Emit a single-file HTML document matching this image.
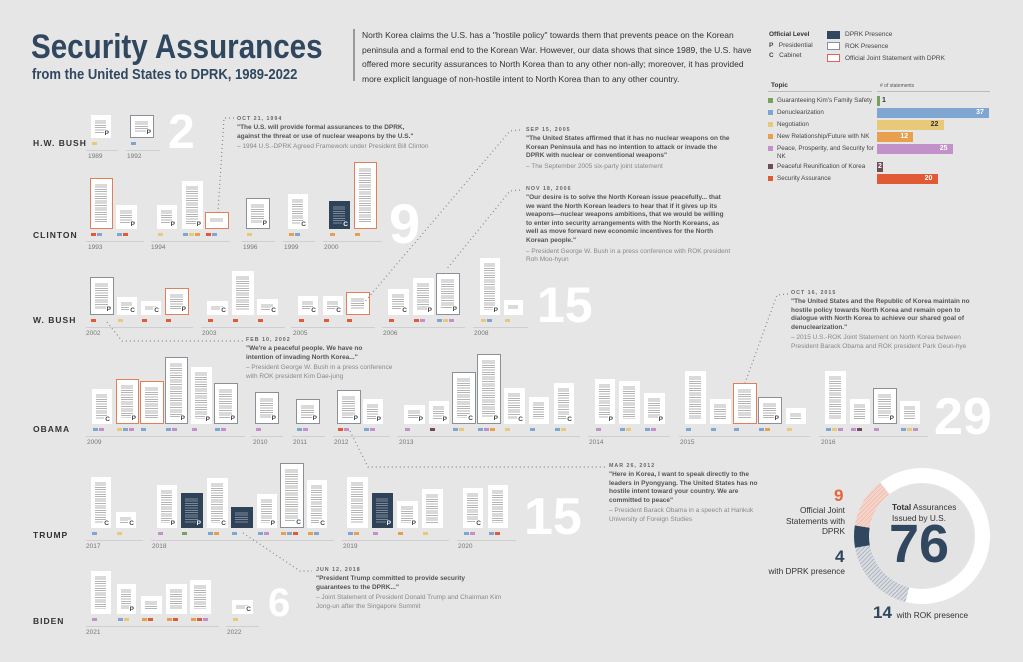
<!DOCTYPE html>
<html><head><meta charset="utf-8">
<style>
body{margin:0;background:#e6e6e6;}
#c{position:relative;width:1023px;height:662px;overflow:hidden;background:#e6e6e6;font-family:"Liberation Sans",sans-serif;color:#444;}
.a{position:absolute;white-space:nowrap;}
.doc{position:absolute;background:#fff;box-sizing:border-box;}
.doc i{position:absolute;left:4px;right:5px;top:4px;bottom:5px;background:repeating-linear-gradient(#fff 0,#fff 1.3px,#b5b5b5 1.3px,#b5b5b5 2.3px);}
.doc.g{border:1.5px solid #8a9098;}
.doc.o{border:1.5px solid #e0805a;}
.doc.d{background:#2f4358;}
.doc.d i{background:repeating-linear-gradient(#2f4358 0,#2f4358 1.3px,#7a8899 1.3px,#7a8899 2.3px);}
.doc b{position:absolute;right:1px;bottom:0;font-size:6.5px;font-weight:bold;color:#444;background:#fff;padding:0 1px;line-height:8px;}
.doc.d b{background:#2f4358;color:#fff;}
.tag{position:absolute;width:5px;height:3px;}
.ln{position:absolute;height:1px;background:#cfcfcf;}
.yr{position:absolute;font-size:6.5px;color:#777;}
.pres{position:absolute;left:33px;font-size:8.5px;font-weight:bold;letter-spacing:1px;color:#333;}
.big{position:absolute;color:#fff;font-weight:bold;font-size:62px;line-height:1;}
.q{position:absolute;font-size:6.5px;line-height:8.6px;color:#555;}
.q .dt{font-size:5.3px;letter-spacing:1px;font-weight:bold;color:#666;line-height:9px;}
.q .t{font-weight:bold;color:#555;}
.q .s{color:#888;margin-top:2px;}
</style></head><body><div id="c">
<div class="a" style="left:31px;top:28px;font-size:34px;font-weight:bold;color:#30475f;transform:scaleX(0.87);transform-origin:0 0;">Security Assurances</div>
<div class="a" style="left:32px;top:66px;font-size:15px;font-weight:bold;color:#30475f;transform:scaleX(0.87);transform-origin:0 0;">from the United States to DPRK, 1989-2022</div>
<div class="a" style="left:353px;top:29px;width:2px;height:52px;background:#999;"></div>
<div class="a" style="left:362px;top:28px;font-size:8.5px;line-height:14.6px;color:#333;">North Korea claims the U.S. has a "hostile policy" towards them that prevents peace on the Korean<br>peninsula and a formal end to the Korean War. However, our data shows that since 1989, the U.S. have<br>offered more security assurances to North Korea than to any other non-ally; moreover, it has provided<br>more explicit language of non-hostile intent to North Korea than to any other country.</div>

<!-- legend -->
<div class="a" style="left:769px;top:31px;font-size:6.5px;font-weight:bold;color:#333;">Official Level</div>
<div class="a" style="left:769px;top:42px;font-size:6.5px;color:#444;"><b>P</b>&nbsp;&nbsp;&nbsp;Presidential</div>
<div class="a" style="left:769px;top:52px;font-size:6.5px;color:#444;"><b>C</b>&nbsp;&nbsp;&nbsp;Cabinet</div>
<div class="a" style="left:827px;top:31px;width:13px;height:8px;background:#30475f;"></div>
<div class="a" style="left:827px;top:42px;width:13px;height:8px;background:#fff;border:1px solid #8a9098;box-sizing:border-box;"></div>
<div class="a" style="left:827px;top:54px;width:13px;height:8px;background:#fff;border:1px solid #e06060;box-sizing:border-box;"></div>
<div class="a" style="left:845px;top:31px;font-size:6.5px;">DPRK Presence</div>
<div class="a" style="left:845px;top:43px;font-size:6.5px;">ROK Presence</div>
<div class="a" style="left:845px;top:55px;font-size:6.5px;">Official Joint Statement with DPRK</div>
<div class="a" style="left:771px;top:82px;font-size:6.5px;font-weight:bold;color:#333;">Topic</div>
<div class="a" style="left:880px;top:83px;font-size:5px;color:#555;"># of statements</div>
<div class="a" style="left:768px;top:91px;width:104px;height:1px;background:#bbb;"></div>
<div class="a" style="left:877px;top:91px;width:113px;height:1px;background:#bbb;"></div>
<div id="topics"></div>

<div id="tl"></div>
<div class="pres" style="top:138px;">H.W. BUSH</div>
<div class="pres" style="top:230px;">CLINTON</div>
<div class="pres" style="top:315px;">W. BUSH</div>
<div class="pres" style="top:424px;">OBAMA</div>
<div class="pres" style="top:530px;">TRUMP</div>
<div class="pres" style="top:616px;">BIDEN</div>
<div class="big" style="left:168px;top:109px;font-size:48px;">2</div>
<div class="big" style="left:389px;top:196px;font-size:56px;">9</div>
<div class="big" style="left:537px;top:280px;font-size:50px;">15</div>
<div class="big" style="left:934px;top:391px;font-size:52px;">29</div>
<div class="big" style="left:524px;top:491px;font-size:52px;">15</div>
<div class="big" style="left:268px;top:583px;font-size:40px;">6</div>

<svg class="a" style="left:0;top:0;" width="1023" height="662">
<g fill="none" stroke="#888" stroke-width="1.2" stroke-dasharray="1 3">
<path d="M234 118 L224 118 L218 212"/>
<path d="M520 130 L510 131 L362 305"/>
<path d="M520 190 L510 191 L446 270"/>
<path d="M107 322 L122 341 L243 341"/>
<path d="M788 294 L777 295 L745 383"/>
<path d="M350 431 L368 467 L605 467"/>
<path d="M243 533 L300 571 L312 571"/>
</g>
<g transform="translate(922 536)">
<defs>
<pattern id="hp" width="3" height="3" patternUnits="userSpaceOnUse" patternTransform="rotate(45)"><rect width="3" height="3" fill="#f4d5cc"/><line x1="0" y1="0" x2="0" y2="3" stroke="#f0a996" stroke-width="1"/></pattern>
<pattern id="hg" width="3" height="3" patternUnits="userSpaceOnUse" patternTransform="rotate(45)"><rect width="3" height="3" fill="#d8dbe0"/><line x1="0" y1="0" x2="0" y2="3" stroke="#8a96a6" stroke-width="1"/></pattern>
</defs>
<circle r="52" fill="#e3e3e3"/>
<path id="w" fill="#fff"/><path id="r" fill="url(#hg)"/><path id="dk" fill="#30475f"/><path id="pk" fill="url(#hp)"/>
</g>
</svg>

<div class="q" style="left:237px;top:115px;"><div class="dt">OCT 21, 1994</div><div class="t">"The U.S. will provide formal assurances to the DPRK,<br>against the threat or use of nuclear weapons by the U.S."</div><div class="s">– 1994 U.S.-DPRK Agreed Framework under President Bill Clinton</div></div>
<div class="q" style="left:526px;top:126px;"><div class="dt">SEP 15, 2005</div><div class="t">"The United States affirmed that it has no nuclear weapons on the<br>Korean Peninsula and has no intention to attack or invade the<br>DPRK with nuclear or conventional weapons"</div><div class="s">– The September 2005 six-party joint statement</div></div>
<div class="q" style="left:526px;top:185px;"><div class="dt">NOV 18, 2006</div><div class="t">"Our desire is to solve the North Korean issue peacefully... that<br>we want the North Korean leaders to hear that if it gives up its<br>weapons—nuclear weapons ambitions, that we would be willing<br>to enter into security arrangements with the North Koreans, as<br>well as move forward new economic incentives for the North<br>Korean people."</div><div class="s">– President George W. Bush in a press conference with ROK president<br>Roh Moo-hyun</div></div>
<div class="q" style="left:246px;top:336px;"><div class="dt">FEB 10, 2002</div><div class="t">"We're a peaceful people. We have no<br>intention of invading North Korea..."</div><div class="s">– President George W. Bush in a press conference<br>with ROK president Kim Dae-jung</div></div>
<div class="q" style="left:791px;top:289px;"><div class="dt">OCT 16, 2015</div><div class="t">"The United States and the Republic of Korea maintain no<br>hostile policy towards North Korea and remain open to<br>dialogue with North Korea to achieve our shared goal of<br>denuclearization."</div><div class="s">– 2015 U.S.-ROK Joint Statement on North Korea between<br>President Barack Obama and ROK president Park Geun-hye</div></div>
<div class="q" style="left:609px;top:462px;"><div class="dt">MAR 26, 2012</div><div class="t">"Here in Korea, I want to speak directly to the<br>leaders in Pyongyang.  The United States has no<br>hostile intent toward your country.  We are<br>committed to peace"</div><div class="s">– President Barack Obama in a speech at Hankuk<br>University of Foreign Studies</div></div>
<div class="q" style="left:316px;top:566px;"><div class="dt">JUN 12, 2018</div><div class="t">"President Trump committed to provide security<br>guarantees to the DPRK..."</div><div class="s">– Joint Statement of President Donald Trump and Chairman Kim<br>Jong-un after the Singapore Summit</div></div>

<div class="a" style="left:834px;top:486px;font-size:17px;font-weight:bold;color:#e8643a;">9</div>
<div class="a" style="left:775px;top:505px;width:70px;text-align:right;font-size:8.3px;line-height:10.5px;color:#333;white-space:normal;">Official Joint Statements with DPRK</div>
<div class="a" style="left:835px;top:547px;font-size:17px;font-weight:bold;color:#30475f;">4</div>
<div class="a" style="left:765px;top:566px;width:80px;text-align:right;font-size:8.3px;color:#333;">with DPRK presence</div>
<div class="a" style="left:873px;top:603px;font-size:17px;font-weight:bold;color:#30475f;">14 <span style="font-size:8.3px;font-weight:normal;color:#333;">with ROK presence</span></div>
<div class="a" style="left:892px;top:502px;font-size:8.3px;line-height:10.5px;color:#333;"><b>Total</b> Assurances<br>Issued by U.S.</div>
<div class="a" style="left:889px;top:517px;font-size:54px;font-weight:bold;color:#30475f;line-height:1;">76</div>
</div>
<script>
var C={g:'#7aa060',b:'#7ea6d0',y:'#e8c97a',o:'#e8a050',p:'#c291c9',m:'#6e4a5a',r:'#e05a35'};
var h='';
var T=[['Guaranteeing Kim\'s Family Safety',1,'g',101],['Denuclearization',37,'b',113],['Negotiation',22,'y',125],['New Relationship/Future with NK',12,'o',137],['Peace, Prosperity, and Security for<br>NK',25,'p',149],['Peaceful Reunification of Korea',2,'m',167],['Security Assurance',20,'r',179]];
T.forEach(function(t){var w=Math.max(3,t[1]*3.03);
h+='<div class="a" style="left:768px;top:'+(t[3]-3)+'px;width:5px;height:5px;background:'+C[t[2]]+'"></div>';
h+='<div class="a" style="left:777px;top:'+(t[3]-4)+'px;font-size:6.3px;line-height:8px;color:#444">'+t[0]+'</div>';
h+='<div class="a" style="left:877px;top:'+(t[3]-5)+'px;width:'+w+'px;height:10px;background:'+C[t[2]]+'"></div>';
var lbl=t[1]<3?'<span style="color:'+(t[1]==1?'#333':'#fff')+'">'+t[1]+'</span>':t[1];
var lx=t[1]==1?877+w+2:(t[1]==2?878:877+w-(String(t[1]).length*5+3));
h+='<div class="a" style="left:'+lx+'px;top:'+(t[3]-4)+'px;font-size:7px;font-weight:bold;color:'+(t[1]==22?'#333':'#fff')+'">'+lbl+'</div>';});
document.getElementById('topics').innerHTML=h;
var R=[
[138,[[91,115,20,'','P','y'],[130,115,24,'g','P','b']],[[86,118],[126,160]],[[88,'1989'],[127,'1992']]],
[229,[[90,178,23,'o','','rb'],[116,205,21,'','P','br'],[157,205,20,'','P','y'],[182,181,21,'','P','byo'],[205,212,24,'o','','rb'],[246,198,24,'g','P','y'],[288,194,20,'','C','ob'],[329,201,21,'d','C','o'],[354,162,23,'o','','o']],[[86,144],[151,230],[242,275],[283,315],[323,382]],[[88,'1993'],[151,'1994'],[243,'1996'],[284,'1999'],[324,'2000']]],
[315,[[90,277,24,'g','P','r'],[117,297,20,'','C','y'],[141,301,20,'','C','r'],[165,288,24,'o','P','r'],[207,301,21,'','C','r'],[232,271,22,'','','r'],[257,299,21,'','C','r'],[298,296,20,'','C','r'],[323,296,20,'','C','r'],[346,292,24,'o','','r'],[388,289,21,'','C','r'],[413,278,21,'','P','rp'],[436,273,24,'g','P','byp'],[480,258,20,'','P','yb'],[504,300,19,'','','y']],[[86,193],[201,285],[291,375],[382,465],[473,528]],[[86,'2002'],[202,'2003'],[293,'2005'],[383,'2006'],[474,'2008']]],
[424,[[92,389,20,'','C','bp'],[116,379,23,'o','P','ybp'],[140,381,24,'o','','b'],[165,357,23,'g','P','bp'],[191,367,21,'','P','p'],[214,383,24,'g','P','bp'],[255,392,24,'g','P','p'],[296,399,24,'g','P','bp'],[337,390,24,'g','P','rp'],[363,399,20,'','P','bp'],[404,405,21,'','P','p'],[429,401,20,'','P','m'],[452,372,24,'g','C','by'],[477,354,24,'g','P','bpo'],[504,388,21,'','C','y'],[529,397,20,'','','b'],[554,383,20,'','C','by'],[595,379,20,'','P','p'],[619,381,21,'','','by'],[644,393,21,'','P','bp'],[685,371,21,'','','b'],[710,399,21,'','','b'],[733,383,24,'o','','b'],[758,397,24,'g','P','bo'],[786,408,20,'','','y'],[825,371,21,'','','byp'],[850,399,20,'','','pm'],[873,388,24,'g','P','p'],[900,401,20,'','','byp']],[[86,245],[251,283],[292,325],[333,390],[397,580],[588,670],[679,810],[819,928]],[[87,'2009'],[253,'2010'],[293,'2011'],[334,'2012'],[399,'2013'],[589,'2014'],[680,'2015'],[821,'2016']]],
[528,[[91,477,20,'','C','b'],[116,512,20,'','C','y'],[157,485,20,'','P','p'],[181,493,22,'d','P','g'],[207,478,21,'','C','bo'],[231,507,22,'d','','b'],[257,494,20,'','P','bp'],[280,463,24,'g','C','obr'],[307,480,20,'','C','ob'],[347,477,21,'','','bo'],[372,493,21,'d','P','p'],[397,501,21,'','P','o'],[422,489,21,'','','y'],[463,488,20,'','C','bp'],[488,485,20,'','','br']],[[86,143],[151,334],[342,449],[457,516]],[[86,'2017'],[152,'2018'],[343,'2019'],[458,'2020']]],
[614,[[91,571,20,'','','p'],[117,584,19,'','P','by'],[141,596,21,'','','or'],[166,584,21,'','','or'],[190,580,21,'','','orp'],[232,600,21,'','C','y']],[[86,219],[226,259]],[[86,'2021'],[227,'2022']]]
];
var s='';
R.forEach(function(r){var b=r[0];
r[1].forEach(function(d){s+='<div class="doc '+d[3]+'" style="left:'+d[0]+'px;top:'+d[1]+'px;width:'+d[2]+'px;height:'+(b-d[1])+'px"><i></i>'+(d[4]?'<b>'+d[4]+'</b>':'')+'</div>';
for(var k=0;k<d[5].length;k++)s+='<div class="tag" style="left:'+(d[0]+1+k*6)+'px;top:'+(b+4)+'px;background:'+C[d[5][k]]+'"></div>';});
r[2].forEach(function(l){s+='<div class="ln" style="left:'+l[0]+'px;width:'+(l[1]-l[0])+'px;top:'+(b+12)+'px"></div>';});
r[3].forEach(function(y){s+='<div class="yr" style="left:'+y[0]+'px;top:'+(b+15)+'px">'+y[1]+'</div>';});});
document.getElementById('tl').innerHTML=s;
function arc(a0,a1,R1,R0){function p(a,r){var t=(a-90)*Math.PI/180;return (r*Math.cos(t)).toFixed(2)+' '+(r*Math.sin(t)).toFixed(2);}
var lg=((a1-a0+360)%360)>180?1:0;return 'M'+p(a0,R1)+' A'+R1+' '+R1+' 0 '+lg+' 1 '+p(a1,R1)+' L'+p(a1,R0)+' A'+R0+' '+R0+' 0 '+lg+' 0 '+p(a0,R0)+'Z';}
document.getElementById('w').setAttribute('d',arc(-38,194,68,53));
document.getElementById('r').setAttribute('d',arc(194,260,68,53));
document.getElementById('dk').setAttribute('d',arc(260,279,68,53));
document.getElementById('pk').setAttribute('d',arc(279,322,68,53));
</script>
</body></html>
